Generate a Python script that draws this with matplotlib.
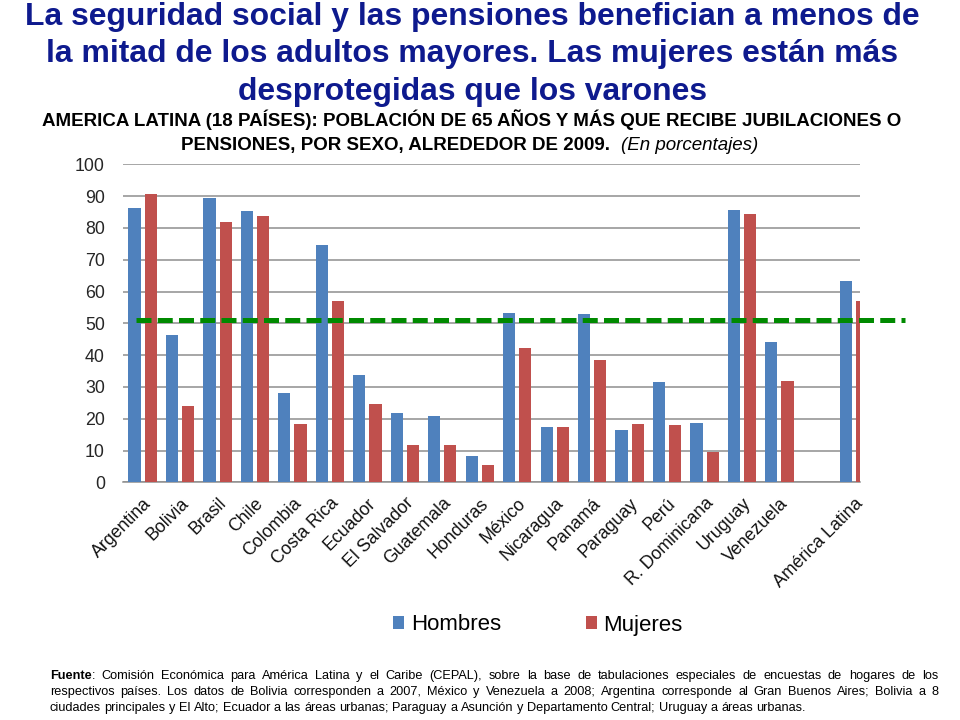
import numpy as np
import matplotlib
matplotlib.use("Agg")
import matplotlib.pyplot as plt
from matplotlib.patches import Patch
from matplotlib import font_manager

# ---------------- data ----------------
countries = ["Argentina", "Bolivia", "Brasil", "Chile", "Colombia", "Costa Rica",
             "Ecuador", "El Salvador", "Guatemala", "Honduras", "México",
             "Nicaragua", "Panamá", "Paraguay", "Perú", "R. Dominicana",
             "Uruguay", "Venezuela"]
hombres = [86.4, 46.2, 89.3, 85.3, 28.0, 74.5, 33.6, 21.9, 21.0, 8.2, 53.2,
           17.3, 52.9, 16.6, 31.4, 18.6, 85.6, 44.2]
mujeres = [90.8, 24.0, 82.0, 83.6, 18.2, 57.0, 24.6, 11.8, 11.8, 5.5, 42.1,
           17.3, 38.5, 18.2, 17.9, 9.6, 84.4, 31.9]
region_label = "América Latina"
region_hombres = 63.4
region_mujeres = 57.0
reference_value = 51
yticks = [0, 10, 20, 30, 40, 50, 60, 70, 80, 90, 100]
series_names = ["Hombres", "Mujeres"]

title_lines = ["La seguridad social y las pensiones benefician a menos de",
               "la mitad de los adultos mayores. Las mujeres están más",
               "desprotegidas que los varones"]
subtitle_line1 = "AMERICA LATINA (18 PAÍSES): POBLACIÓN DE 65 AÑOS Y MÁS QUE RECIBE JUBILACIONES O"
subtitle_line2 = "PENSIONES, POR SEXO, ALREDEDOR DE 2009."
subtitle_note = "(En porcentajes)"
foot_lines = [
    "Fuente: Comisión Económica para América Latina y el Caribe (CEPAL), sobre la base de tabulaciones especiales de encuestas de hogares de los",
    "respectivos países. Los datos de Bolivia corresponden a 2007, México y Venezuela a 2008; Argentina corresponde al Gran Buenos Aires; Bolivia a 8",
    "ciudades principales y El Alto; Ecuador a las áreas urbanas; Paraguay a Asunción y Departamento Central; Uruguay a áreas urbanas.",
]

# ---------------- style ----------------
plt.rcParams["font.family"] = ["Liberation Sans", "DejaVu Sans"]
BLUE = "#4F81BD"
RED = "#C0504D"
GRID = "#8E8E8E"
TITLE_C = "#0E1A8E"
W, H = 960, 720

try:
    font_manager.findfont("Liberation Sans Narrow", fallback_to_default=False)
    FOOT_FAMILY = ["Liberation Sans Narrow", "Liberation Sans"]
    FOOT_SIZE = 10.5
except Exception:
    FOOT_FAMILY = ["Liberation Sans", "DejaVu Sans"]
    FOOT_SIZE = 9.2

fig = plt.figure(figsize=(9.6, 7.2), dpi=100, facecolor="white")
renderer = fig.canvas.get_renderer()

def fx(px):
    return px / W

def fy(py):
    return 1 - py / H

ax = fig.add_axes([fx(123), fy(482.3), fx(860) - fx(123), fy(164.3) - fy(482.3)])

pos = np.append(np.arange(len(countries)), len(countries) + 1)
labels = countries + [region_label]
h_vals = hombres + [region_hombres]
m_vals = mujeres + [region_mujeres]

bw = 0.325
off = 0.216
ax.bar(pos - off, h_vals, width=bw, color=BLUE, zorder=3)
ax.bar(pos + off, m_vals, width=bw, color=RED, zorder=3)

ax.set_xlim(-0.523, pos[-1] + 0.15)
ax.set_ylim(0, 100)
ax.set_yticks(yticks)
ax.set_yticklabels([str(v) for v in yticks], fontsize=12.8, color="#262626")
ax.yaxis.grid(True, color=GRID, linewidth=1.1, zorder=0)
ax.set_axisbelow(True)
for s in ["top", "right", "left"]:
    ax.spines[s].set_visible(False)
ax.spines["bottom"].set_color(GRID)
ax.spines["bottom"].set_linewidth(1.1)
ax.tick_params(axis="y", length=0, pad=13)
ax.set_xticks(pos)
ax.set_xticklabels(labels, rotation=45, ha="right", va="top",
                   rotation_mode="anchor", fontsize=12.8, color="#111111")
ax.tick_params(axis="x", length=0, pad=9)

# reference dashed line (extends beyond the plot area)
ref, = ax.plot([(136 - 123) / 737, (905 - 123) / 737], [reference_value, reference_value],
               transform=ax.get_yaxis_transform(), color="#008A00", lw=3.6,
               clip_on=False, zorder=5, solid_capstyle="butt")
ref.set_dashes([3.0, 1.25])
ref.set_dash_capstyle("butt")

# ---------------- titles ----------------
def width_of(t):
    return t.get_window_extent(renderer).width

t1 = fig.text(fx(472), fy(24.5), title_lines[0], fontsize=20, fontweight="bold",
              color=TITLE_C, ha="center", va="baseline")
tsize = 20 * 895 / width_of(t1)
t1.set_fontsize(tsize)
for line, yb in zip(title_lines[1:], [62, 100]):
    fig.text(fx(472), fy(yb), line, fontsize=tsize, fontweight="bold",
             color=TITLE_C, ha="center", va="baseline")

s1 = fig.text(fx(472), fy(125.5), subtitle_line1, fontsize=12, fontweight="bold",
              color="black", ha="center", va="baseline")
ssize = 12 * 861 / width_of(s1)
s1.set_fontsize(ssize)
s2 = fig.text(0, fy(150), subtitle_line2, fontsize=ssize, fontweight="bold",
              color="black", ha="left", va="baseline")
s3 = fig.text(0, fy(150), subtitle_note, fontsize=ssize, fontstyle="italic",
              color="black", ha="left", va="baseline")
w2, w3 = width_of(s2), width_of(s3)
gap = 11
total = w2 + gap + w3
start = 470 - total / 2
s2.set_x(fx(start))
s3.set_x(fx(start + w2 + gap))

# ---------------- legend ----------------
handles = [Patch(facecolor=BLUE, label=series_names[0]),
           Patch(facecolor=RED, label=series_names[1])]
fig.legend(handles=handles, loc="center", bbox_to_anchor=(fx(538), fy(625)),
           ncol=2, frameon=False, fontsize=16, handlelength=0.5,
           handleheight=0.5, handletextpad=0.3, columnspacing=3.8)

# ---------------- footnote (justified) ----------------
x_left, x_right = 50, 938
baselines = [679, 695, 711]

def make_word(word):
    if word.startswith("Fuente"):
        return [("Fuente", "bold"), (word[len("Fuente"):], "normal")]
    return [(word, "normal")]

space_t = fig.text(0, 0, "a a", fontsize=FOOT_SIZE, family=FOOT_FAMILY)
a_t = fig.text(0, 0, "aa", fontsize=FOOT_SIZE, family=FOOT_FAMILY)
space_w = width_of(space_t) - width_of(a_t)
space_t.remove()
a_t.remove()

for i, (line, yb) in enumerate(zip(foot_lines, baselines)):
    words = [make_word(w) for w in line.split(" ")]
    placed = []
    widths = []
    for word in words:
        segs = []
        ww = 0
        for txt, wt in word:
            t = fig.text(0, fy(yb), txt, fontsize=FOOT_SIZE, fontweight=wt,
                         family=FOOT_FAMILY, color="black", ha="left", va="baseline")
            sw = width_of(t)
            segs.append((t, ww))
            ww += sw
        placed.append(segs)
        widths.append(ww)
    justify = i < len(foot_lines) - 1
    if justify:
        g = (x_right - x_left - sum(widths)) / (len(words) - 1)
        g = max(g, space_w * 0.6)
    else:
        g = space_w
    x = x_left
    for segs, ww in zip(placed, widths):
        for t, o in segs:
            t.set_x(fx(x + o))
        x += ww + g

fig.savefig("out.png", dpi=100, facecolor="white")
